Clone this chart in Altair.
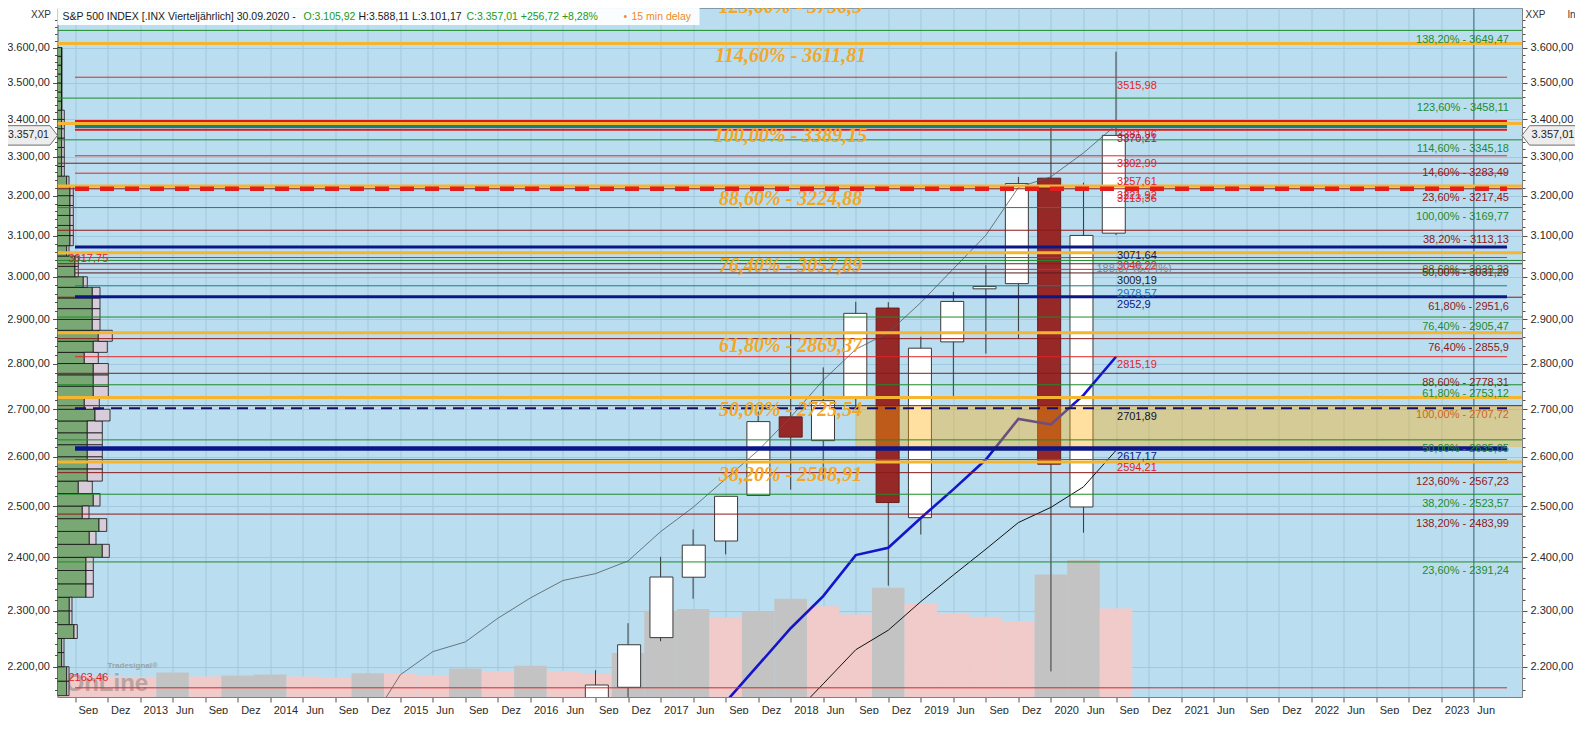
import altair as alt
import pandas as pd

# ------------------------------------------------------------------ data
# quarter index 0 = Sep 2012 ... 43 = Jun 2023 (axis tick labels)
Q_LABELS = ["Sep", "Dez", "2013", "Jun", "Sep", "Dez", "2014", "Jun",
            "Sep", "Dez", "2015", "Jun", "Sep", "Dez", "2016", "Jun",
            "Sep", "Dez", "2017", "Jun", "Sep", "Dez", "2018", "Jun",
            "Sep", "Dez", "2019", "Jun", "Sep", "Dez", "2020", "Jun",
            "Sep", "Dez", "2021", "Jun", "Sep", "Dez", "2022", "Jun",
            "Sep", "Dez", "2023", "Jun"]

# quarterly candles Q3 2016 .. Q3 2020
CANDLE_Q = list(range(16, 33))
OPEN = [2099.34, 2164.33, 2251.57, 2362.34, 2431.39, 2521.20, 2683.73, 2633.45, 2727.13,
        2926.29, 2476.96, 2848.63, 2971.41, 2983.69, 3244.67, 2498.08, 3105.92]
HIGH = [2193.81, 2277.53, 2400.98, 2453.82, 2519.44, 2694.97, 2872.87, 2791.47, 2940.91,
        2939.86, 2860.31, 2964.15, 3027.98, 3247.93, 3393.52, 3233.13, 3588.11]
LOW = [2074.02, 2083.79, 2245.13, 2322.25, 2405.70, 2520.40, 2532.69, 2553.80, 2698.95,
       2346.58, 2443.96, 2728.81, 2822.12, 2855.94, 2191.86, 2447.49, 3101.17]
CLOSE = [2168.27, 2238.83, 2362.72, 2423.41, 2519.36, 2673.61, 2640.87, 2718.37, 2913.98,
         2506.85, 2834.40, 2941.76, 2976.74, 3230.78, 2584.59, 3100.29, 3357.01]

# volume per quarter (relative units), quarter 0..32
VOL_Q = list(range(0, 33))
VOLUME = [21.5, 21.0, 20.8, 25.0, 21.0, 22.0, 23.0, 21.0, 20.0, 24.3,
          24.0, 22.3, 29.3, 26.7, 32.0, 26.7, 24.3, 45.0, 88.3, 90.0,
          81.7, 87.3, 100.5, 92.8, 84.5, 111.8, 96.2, 85.5, 82.2, 77.8,
          125.5, 140.2, 90.5]

# moving-average style lines
UPPER_Q = list(range(9, 33))
UPPER_MA = [2098.0, 2186.0, 2226.6, 2243.9, 2286.6, 2323.8, 2356.2, 2369.1, 2393.1, 2449.5,
            2497.4, 2554.6, 2613.0, 2683.2, 2763.2, 2831.8, 2869.4, 2939.2, 3019.1, 3100.8,
            3220.9, 3248.4, 3310.5, 3384.8]
LOWER_Q = list(range(22, 33))
LOWER_MA = [2112.9, 2170.3, 2230.0, 2264.9, 2317.0, 2366.5, 2415.7, 2467.4, 2497.4, 2538.4, 2613.0]
BLUE_Q = list(range(20, 33))
BLUE_MA = [2139.1, 2202.7, 2268.4, 2327.2, 2404.3, 2418.3, 2476.2, 2533.3, 2594.1, 2679.3,
           2667.6, 2730.4, 2815.19]

# volume profile (price bins of 25 points)
PROFILE_STEP = 25
PROFILE_LOW = list(range(2150, 3600, PROFILE_STEP))
PROFILE_GREEN = [9.2, 9.2, 4.2, 4.2, 16.5, 11.8, 11.8, 28.5, 28.5, 28.5,
                 44.8, 31.8, 41.5, 24.8, 35.8, 20.8, 29.8, 29.8, 29.8, 29.8,
                 29.8, 37.5, 26.8, 35.8, 35.8, 35.8, 26.8, 35.8, 40.8, 34.8,
                 34.8, 34.8, 34.8, 25.8, 17.5, 17.5, 9.2, 12.5, 12.5, 12.5,
                 12.5, 12.5, 12.5, 9.2, 4.2, 4.2, 4.2, 4.2, 4.2, 4.2,
                 4.2, 4.2, 4.2, 4.2, 4.2, 4.2, 4.2, 4.2]
PROFILE_TOTAL = [11.5, 11.5, 6.5, 6.5, 19.8, 14.5, 14.5, 35.8, 35.8, 35.8,
                 51.8, 38.5, 49.2, 31.5, 42.5, 34.8, 44.8, 44.8, 44.8, 44.8,
                 44.8, 52.5, 41.8, 50.8, 50.8, 50.8, 40.8, 49.8, 54.8, 42.5,
                 42.5, 42.5, 42.5, 29.8, 20.8, 20.8, 11.5, 15.8, 15.8, 15.8,
                 15.8, 15.8, 15.8, 11.5, 6.8, 6.8, 6.8, 6.8, 6.8, 6.8,
                 6.8, 4.2, 4.2, 4.2, 4.2, 4.2, 4.2, 4.2]

# Fibonacci levels
FIB_GREEN_PCT = ["138,20%", "123,60%", "114,60%", "100,00%", "88,60%", "76,40%",
                 "61,80%", "50,00%", "38,20%", "23,60%"]
FIB_GREEN = [3649.47, 3458.11, 3345.18, 3169.77, 3039.23, 2905.47, 2753.12, 2635.05, 2523.57, 2391.24]
FIB_MAROON_PCT = ["14,60%", "23,60%", "38,20%", "50,00%", "61,80%", "76,40%",
                  "88,60%", "100,00%", "123,60%", "138,20%"]
FIB_MAROON = [3283.49, 3217.45, 3113.13, 3031.29, 2951.6, 2855.9, 2778.31, 2707.72, 2567.23, 2483.99]
FIB_ORANGE_PCT = ["123,60%", "114,60%", "100,00%", "88,60%", "76,40%", "61,80%", "50,00%", "38,20%"]
FIB_ORANGE = [3756.5, 3611.81, 3389.15, 3224.88, 3057.89, 2869.37, 2725.54, 2588.91]

# other horizontal lines
RED_LINES = [3515.98, 3302.99, 3257.61, 3046.22, 3017.75, 2815.19, 2594.21, 2163.46]
RED_THICK = [3396.0, 3372.0]
TEAL_THICK = [3381.96]
TEAL_LINES = [2978.57]
DARK_LINES = [3009.19]
NAVY_THICK = [3071.64, 2952.9]
NAVY_XTHICK = [2617.17]
NAVY_DASH = [2701.89]
RED_DASH = [3217.6]

# value labels next to the last candle
CANDLE_LABELS = [3515.98, 3381.96, 3370.21, 3302.99, 3257.61, 3221.92, 3213.36, 3071.64,
                 3046.22, 3009.19, 2978.57, 2952.9, 2815.19, 2701.89, 2617.17, 2594.21]
LEFT_LABELS = [3017.75, 2163.46]
MEASURE_LABEL = "188,37 (6,74%)"
MEASURE_VALUE = 3018.0

# zone (rectangle) from Sep 2018 to right edge
ZONE_LOW, ZONE_HIGH, ZONE_START = 2620.0, 2707.72, 24

LAST_CLOSE = 3357.01
HEADER_TEXT = ["S&P 500 INDEX [.INX Vierteljährlich] 30.09.2020 -", "O:3.105,92",
               "H:3.588,11 L:3.101,17", "C:3.357,01 +256,72 +8,28%", "•", "15 min delay"]

# ------------------------------------------------------------------ styles / layout
W, H = 1464.5, 689
X_DOMAIN = [-0.538, 44.48]
Y_DOMAIN = [2147.7, 3715.0]
VOL_DOMAIN = [0, 705.5]
FONT = "Liberation Sans"
BG = "#BADEF0"
GRID = "#A0C8DE"
GREEN = "#1E8B2A"
MAROON = "#8B1A1A"
RED = "#E32424"
ORANGE = "#F5B52E"
ORANGE_TXT = "#F5A623"
NAVY = "#0B1786"
TEAL = "#16807F"
CANDLE_RED = "#962828"
LINE_SPAN = (0.0, 44.02)
FIB_LABEL_X = 44.08
ORANGE_LABEL_X = 22
HEADER_X = [5.1, 246.0, 301.0, 409.0, 566.0, 574.0]
HEADER_COLORS = ["#1a1a1a", "#1C9A1C", "#1a1a1a", "#1C9A1C", "#F08A1E", "#F08A1E"]
CANDLE_LABEL_COLORS = [RED, RED, "#B01818", RED, RED, RED, RED, "#1a1a50",
                       RED, "#202020", "#1F6FA8", NAVY, RED, "#101030", NAVY, RED]

xs = alt.Scale(domain=X_DOMAIN, nice=False, zero=False)
ys = alt.Scale(type="log", domain=Y_DOMAIN, nice=False)


def xq(f):
    return alt.X(f"{f}:Q", scale=xs, axis=None)


def yq(f):
    return alt.Y(f"{f}:Q", scale=ys, axis=None)


def de(v):
    return str(v).replace(".", ",")


layers = []

# ---- axes (invisible carrier marks)
TICK_TEST = "datum.value % 100 === 0"
DE_FMT = "replace(replace(replace(format(datum.value, ',.2f'), ',', '#'), '.', ','), '#', '.')"
Y_TICKS = list(range(2160, 3700, 20))
y_common = dict(
    values=Y_TICKS,
    labelExpr=f"{TICK_TEST} ? {DE_FMT} : ''",
    tickSize={"condition": {"test": TICK_TEST, "value": 5}, "value": 3},
    tickColor="#505050", domainColor="#808080",
    labelFont=FONT, labelFontSize=11, labelColor="#2a2a2a", labelPadding=3,
    labelOverlap=False, labelBound=False, labelFlush=False,
    titleFont=FONT, titleFontSize=10, titleFontWeight="normal", titleColor="#333333",
    titleAngle=0, titleBaseline="top", titleAlign="left", titleY=1,
)
js_labels = "[" + ",".join(f"'{s}'" for s in Q_LABELS) + "]"
x_axis = alt.Axis(values=list(range(len(Q_LABELS))), labelExpr=f"{js_labels}[datum.value]",
                  labelAlign="left", labelOffset=3, labelPadding=2, tickSize=5,
                  tickColor="#505050", domainColor="#808080", grid=True, gridColor=GRID,
                  labelFont=FONT, labelFontSize=11, labelColor="#2a2a2a",
                  labelOverlap=False, labelBound=False, labelFlush=False, title=None)
axis_df = pd.DataFrame({"q": [0.0], "v": [2500.0]})
layers.append(alt.Chart(axis_df).mark_point(opacity=0).encode(
    x=alt.X("q:Q", scale=xs, axis=x_axis),
    y=alt.Y("v:Q", scale=ys, axis=alt.Axis(
        orient="left", grid=True, gridColor=GRID,
        gridOpacity={"condition": {"test": TICK_TEST, "value": 1}, "value": 0},
        title="XXP", titleX=-27, **y_common))))
layers.append(alt.Chart(axis_df).mark_point(opacity=0).encode(
    x=xq("q"),
    y=alt.Y("v:Q", scale=ys, axis=alt.Axis(
        orient="right", grid=False,
        title="XXP" + "\u00a0" * 8 + "ln", titleX=3, **y_common))))

# ---- volume bars
vol_df = pd.DataFrame({"q": VOL_Q, "vol": VOLUME})
vol_df["up"] = vol_df["vol"] > vol_df["vol"].shift(1)
layers.append(alt.Chart(vol_df).transform_calculate(
    x0="datum.q - 0.5", x1="datum.q + 0.5").mark_rect(clip=True).encode(
    x=xq("x0"), x2="x1",
    y=alt.Y("vol:Q", scale=alt.Scale(domain=VOL_DOMAIN, nice=False), axis=None),
    y2=alt.datum(0),
    color=alt.condition("datum.up", alt.value("#C3C3C3"), alt.value("#F1CACA"))))

# ---- watermark
wm = pd.DataFrame({"t": ["Tradesignal®", "OnLine"]})
layers.append(alt.Chart(wm).transform_filter("datum.t == 'OnLine'").mark_text(
    align="left", baseline="middle", font=FONT, fontSize=24, fontWeight="bold",
    color="#7f7f7f", opacity=0.5).encode(
    x=alt.value(8), y=alt.value(H - 13), text="t:N"))
layers.append(alt.Chart(wm).transform_filter("datum.t != 'OnLine'").mark_text(
    align="left", baseline="middle", font=FONT, fontSize=8, fontWeight="bold",
    color="#8a8a8a", opacity=0.7).encode(
    x=alt.value(50), y=alt.value(H - 31), text="t:N"))

# ---- volume profile
prof_df = pd.DataFrame({"lo": PROFILE_LOW, "green": PROFILE_GREEN, "total": PROFILE_TOTAL})
prof_df["hi"] = prof_df["lo"] + PROFILE_STEP
px = alt.Scale(domain=[0, W], nice=False, zero=False)
layers.append(alt.Chart(prof_df).transform_calculate(z="0").mark_rect(
    fill="#79A874", stroke="#111111", strokeWidth=0.8, clip=True).encode(
    x=alt.X("z:Q", scale=px, axis=None), x2="green", y=yq("lo"), y2="hi"))
layers.append(alt.Chart(prof_df).mark_rect(
    fill="#D8CBDA", stroke="#111111", strokeWidth=0.8, clip=True).encode(
    x=alt.X("green:Q", scale=px, axis=None), x2="total", y=yq("lo"), y2="hi"))

# ---- vertical marker (Jun 2023)
layers.append(alt.Chart(pd.DataFrame({"q": [43]})).mark_rule(
    color="#3F6C84", strokeWidth=1).encode(x=xq("q")))

# ---- candles
cdf = pd.DataFrame({"q": CANDLE_Q, "open": OPEN, "high": HIGH, "low": LOW, "close": CLOSE})
layers.append(alt.Chart(cdf).mark_rule(color="#3a3a3a", strokeWidth=1, clip=True).encode(
    x=xq("q"), y=yq("low"), y2="high"))
up = "datum.close >= datum.open"
layers.append(alt.Chart(cdf).mark_bar(size=23, orient="vertical", strokeWidth=1, clip=True).encode(
    x=xq("q"), y=yq("open"), y2="close",
    fill=alt.condition(up, alt.value("#FFFFFF"), alt.value(CANDLE_RED)),
    stroke=alt.condition(up, alt.value("#3a3a3a"), alt.value("#6a1c1c"))))

# ---- moving-average lines
def ma(qs, vals, color, width):
    return alt.Chart(pd.DataFrame({"q": qs, "v": vals})).mark_line(
        color=color, strokeWidth=width, clip=True).encode(x=xq("q"), y=yq("v"))


layers.append(ma(UPPER_Q, UPPER_MA, "#505a60", 0.8))
layers.append(ma(LOWER_Q, LOWER_MA, "#111111", 1.0))
layers.append(ma(BLUE_Q, BLUE_MA, "#1414CC", 2.6))

# ---- zone
zdf = pd.DataFrame({"q0": [ZONE_START], "q1": [X_DOMAIN[1]], "lo": [ZONE_LOW], "hi": [ZONE_HIGH]})
layers.append(alt.Chart(zdf).mark_rect(fill="#FFAD05", opacity=0.38, clip=True).encode(
    x=xq("q0"), x2="q1", y=yq("lo"), y2="hi"))


# ---- horizontal lines
def hline(values, color, width, dash=None, span=None):
    df = pd.DataFrame({"v": values})
    kw = dict(color=color, strokeWidth=width, clip=True)
    if dash:
        kw["strokeDash"] = dash
    enc = dict(y=yq("v"))
    if span:
        df["x0"], df["x1"] = span
        enc.update(x=xq("x0"), x2="x1")
    return alt.Chart(df).mark_rule(**kw).encode(**enc)


layers.append(hline(FIB_GREEN, GREEN, 1))
layers.append(hline(FIB_MAROON, MAROON, 1))
layers.append(hline(RED_LINES, RED, 1, span=LINE_SPAN))
layers.append(hline(DARK_LINES, "#5a1a1a", 1, span=LINE_SPAN))
layers.append(hline(TEAL_LINES, TEAL, 1, span=LINE_SPAN))
layers.append(hline(RED_THICK, "#E01818", 2, span=LINE_SPAN))
layers.append(hline(TEAL_THICK, TEAL, 4, span=LINE_SPAN))
layers.append(hline(FIB_ORANGE, ORANGE, 3))
layers.append(hline(NAVY_THICK, NAVY, 3, span=LINE_SPAN))
layers.append(hline(NAVY_XTHICK, NAVY, 4.5, span=LINE_SPAN))
layers.append(hline(NAVY_DASH, "#10106a", 2, dash=[11, 7], span=LINE_SPAN))
layers.append(hline(RED_DASH, "#E41E1E", 4.5, dash=[14, 11], span=LINE_SPAN))


# ---- labels
def labels(values, texts, colors, x, align, baseline, dy, size=11, font=FONT,
           weight="normal", style="normal", dx=0):
    df = pd.DataFrame({"v": values, "t": texts, "c": colors, "x": x})
    return alt.Chart(df).mark_text(
        align=align, baseline=baseline, dy=dy, dx=dx, font=font, fontSize=size,
        fontWeight=weight, fontStyle=style, clip=True).encode(
        x=xq("x"), y=yq("v"), text="t:N", color=alt.Color("c:N", scale=None))


fib_vals = FIB_GREEN + FIB_MAROON
fib_txt = [f"{p} - {de(v)}" for p, v in zip(FIB_GREEN_PCT + FIB_MAROON_PCT, fib_vals)]
fib_col = [GREEN] * len(FIB_GREEN) + [("#D0661C" if v == 2707.72 else MAROON) for v in FIB_MAROON]
layers.append(labels(fib_vals, fib_txt, fib_col, FIB_LABEL_X, "right", "top", 3.5))

layers.append(labels(FIB_ORANGE, [f"{p} - {de(v)}" for p, v in zip(FIB_ORANGE_PCT, FIB_ORANGE)],
                     [ORANGE_TXT] * len(FIB_ORANGE), ORANGE_LABEL_X, "center", "top", 3,
                     size=20, font="Liberation Serif", weight="bold", style="italic"))

layers.append(labels(CANDLE_LABELS, [de(v) for v in CANDLE_LABELS], CANDLE_LABEL_COLORS,
                     CANDLE_Q[-1], "left", "top", 2.5, dx=1))
layers.append(labels(LEFT_LABELS, [de(v) for v in LEFT_LABELS], [RED] * len(LEFT_LABELS),
                     -0.2, "left", "bottom", -5))
layers.append(labels([MEASURE_VALUE], [MEASURE_LABEL], ["#7a8a94"], 31.4, "left", "middle", 0))

# ---- price tags on both axes
tag_df = pd.DataFrame({"v": [LAST_CLOSE], "t": ["3.357,01"]})
RIGHT_TAG = "M-1,0L-0.72,-0.36L1,-0.36L1,0.36L-0.72,0.36Z"
LEFT_TAG = "M1,0L0.72,-0.36L-1,-0.36L-1,0.36L0.72,0.36Z"
layers.append(alt.Chart(tag_df).mark_point(
    shape=RIGHT_TAG, size=54 ** 2, fill="#EDEDED", stroke="#6E6E6E", strokeWidth=1,
    opacity=1, fillOpacity=1).encode(x=alt.value(W + 27), y=yq("v")))
layers.append(alt.Chart(tag_df).mark_text(
    align="center", baseline="middle", font=FONT, fontSize=11, color="#222222").encode(
    x=alt.value(W + 31), y=yq("v"), text="t:N"))
layers.append(alt.Chart(tag_df).mark_point(
    shape=LEFT_TAG, size=54 ** 2, fill="#EDEDED", stroke="#6E6E6E", strokeWidth=1,
    opacity=1, fillOpacity=1).encode(x=alt.value(-27), y=yq("v")))
layers.append(alt.Chart(tag_df).mark_text(
    align="center", baseline="middle", font=FONT, fontSize=10.5, color="#222222").encode(
    x=alt.value(-29), y=yq("v"), text="t:N"))

# ---- header box
layers.append(alt.Chart(pd.DataFrame({"a": [0]})).mark_rect(
    fill="#FFFFFF", opacity=0.93).encode(
    x=alt.value(0), x2=alt.value(642), y=alt.value(0), y2=alt.value(17)))
hdr = pd.DataFrame({"t": HEADER_TEXT, "px": HEADER_X, "c": HEADER_COLORS})
layers.append(alt.Chart(hdr).mark_text(
    align="left", baseline="middle", font=FONT, fontSize=10.5).encode(
    x=alt.X("px:Q", scale=None), y=alt.value(8.5), text="t:N",
    color=alt.Color("c:N", scale=None)))

chart = alt.layer(*layers).resolve_scale(x="independent", y="independent").properties(
    width=W, height=H,
    padding={"left": 49.5, "top": 0, "right": 53, "bottom": 17},
    autosize=alt.AutoSizeParams(type="none"),
    background="#FFFFFF",
).configure_view(fill=BG, stroke="#7F9AAA", strokeWidth=1)

chart.save("out.html", embed_options={"renderer": "svg", "actions": False})
